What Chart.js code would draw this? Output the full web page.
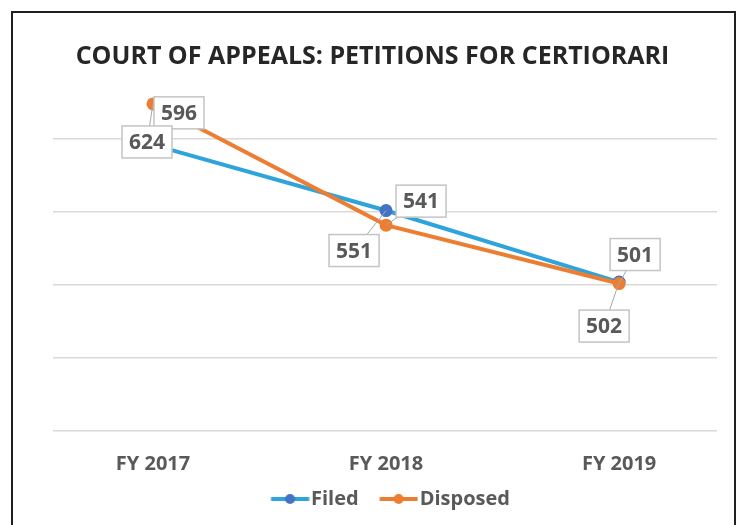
<!DOCTYPE html>
<html>
<head>
<meta charset="utf-8">
<script src="https://cdn.jsdelivr.net/npm/chart.js@4.4.1/dist/chart.umd.min.js"></script>
<style>
  html, body { margin: 0; padding: 0; background: #fff; }
  #wrap { position: relative; width: 745px; height: 525px; overflow: hidden; }
  #frame { position: absolute; left: 11px; top: 11px; width: 725px; height: 560px;
           border: 2px solid #231f20; border-bottom: none; box-sizing: border-box; }
  canvas { position: absolute; left: 0; top: 0; }
</style>
</head>
<body>
<div id="wrap">
  <div id="frame"></div>
  <canvas id="myChart" width="745" height="525"></canvas>
</div>
<script>
// data
const years = ['FY 2017', 'FY 2018', 'FY 2019'];
const filed = [596, 551, 502];
const disposed = [624, 541, 501];
const yTicks = [400, 450, 500, 550, 600];

const grey = '#595959';
const font = "'Open Sans', 'DejaVu Sans', sans-serif";

// label box offsets from the point (dx, dy), one list per series
const labelOffsets = [
  [[26, -32], [-32, 40], [-15, 44]],
  [[-6, 38], [35, -24], [16, -29]]
];

// legend marker: short line with a dot, shifted right inside a wider canvas
function marker(lineColor, dotColor) {
  const c = document.createElement('canvas');
  c.width = 58; c.height = 12;
  const g = c.getContext('2d');
  g.strokeStyle = lineColor;
  g.lineWidth = 4;
  g.beginPath(); g.moveTo(19.5, 6); g.lineTo(57.5, 6); g.stroke();
  g.fillStyle = dotColor;
  g.beginPath(); g.arc(38.5, 6, 5, 0, Math.PI * 2); g.fill();
  return c;
}
const markers = [marker('#2ea3dc', '#4472c4'), marker('#ed7d31', '#ed7d31')];

const labelPlugin = {
  id: 'boxLabels',
  afterDatasetsDraw(chart) {
    const ctx = chart.ctx;
    ctx.save();
    ctx.font = 'bold 21px ' + font;
    ctx.textAlign = 'center';
    ctx.textBaseline = 'middle';
    chart.data.datasets.forEach(function(ds, di) {
      const meta = chart.getDatasetMeta(di);
      meta.data.forEach(function(pt, i) {
        const off = labelOffsets[di][i];
        const cx = pt.x + off[0], cy = pt.y + off[1];
        const txt = String(ds.data[i].y);
        const w = ctx.measureText(txt).width + 14, h = 32;
        ctx.strokeStyle = '#a6a6a6';
        ctx.lineWidth = 1;
        ctx.beginPath(); ctx.moveTo(pt.x, pt.y); ctx.lineTo(cx, cy); ctx.stroke();
        ctx.fillStyle = '#fff';
        ctx.fillRect(cx - w / 2, cy - h / 2, w, h);
        ctx.strokeStyle = '#c4c4c4';
        ctx.lineWidth = 1.5;
        ctx.strokeRect(cx - w / 2, cy - h / 2, w, h);
        ctx.fillStyle = grey;
        ctx.fillText(txt, cx, cy + 1);
      });
    });
    ctx.restore();
  }
};

const ctx = document.getElementById('myChart');
new Chart(ctx, {
  type: 'line',
  data: {
    datasets: [{
      label: 'Filed',
      data: filed.map((v, i) => ({x: i, y: v})),
      borderColor: '#2ea3dc',
      borderWidth: 4,
      pointBackgroundColor: '#4472c4',
      pointBorderColor: '#4472c4',
      pointRadius: 4.5,
      order: 1
    }, {
      label: 'Disposed',
      data: disposed.map((v, i) => ({x: i, y: v})),
      borderColor: '#ed7d31',
      borderWidth: 4,
      pointBackgroundColor: '#ed7d31',
      pointBorderColor: '#ed7d31',
      pointRadius: 4.5,
      order: 0
    }]
  },
  options: {
    responsive: false,
    animation: false,
    layout: { padding: { left: 28, right: 28, top: 0, bottom: 6 } },
    plugins: {
      title: {
        display: true,
        text: 'COURT OF APPEALS: PETITIONS FOR CERTIORARI',
        color: '#262626',
        font: { family: font, size: 25, weight: 'bold' },
        padding: { top: 42, bottom: -6 }
      },
      legend: {
        position: 'bottom',
        fullSize: false,
        labels: {
          usePointStyle: true,
          pointStyleWidth: 41,
          padding: 10,
          color: grey,
          font: { family: font, size: 20, weight: 'bold' },
          sort: (a, b) => a.datasetIndex - b.datasetIndex,
          generateLabels: chart => chart.data.datasets.map((ds, i) => ({
            text: ds.label, datasetIndex: i, pointStyle: markers[i],
            fillStyle: 'transparent', strokeStyle: 'transparent', lineWidth: 0, fontColor: grey
          }))
        }
      },
      tooltip: { enabled: false }
    },
    scales: {
      x: {
        type: 'linear',
        min: -0.429,
        max: 2.42,
        afterBuildTicks: axis => { axis.ticks = years.map((_, i) => ({value: i})); },
        afterFit: axis => { axis.height -= 18; },
        ticks: {
          callback: v => years[v],
          color: grey,
          font: { family: font, size: 20, weight: 'bold' },
          padding: 21,
          maxRotation: 0
        },
        grid: { display: false, drawTicks: false },
        border: { display: false }
      },
      y: {
        min: 400,
        max: 650,
        afterBuildTicks: axis => { axis.ticks = yTicks.map(v => ({value: v})); },
        afterFit: axis => { axis.width = 25; },
        ticks: { display: false },
        grid: { color: '#d9d9d9', lineWidth: 1.5, drawTicks: false },
        border: { display: false }
      }
    }
  },
  plugins: [labelPlugin]
});
</script>
</body>
</html>
